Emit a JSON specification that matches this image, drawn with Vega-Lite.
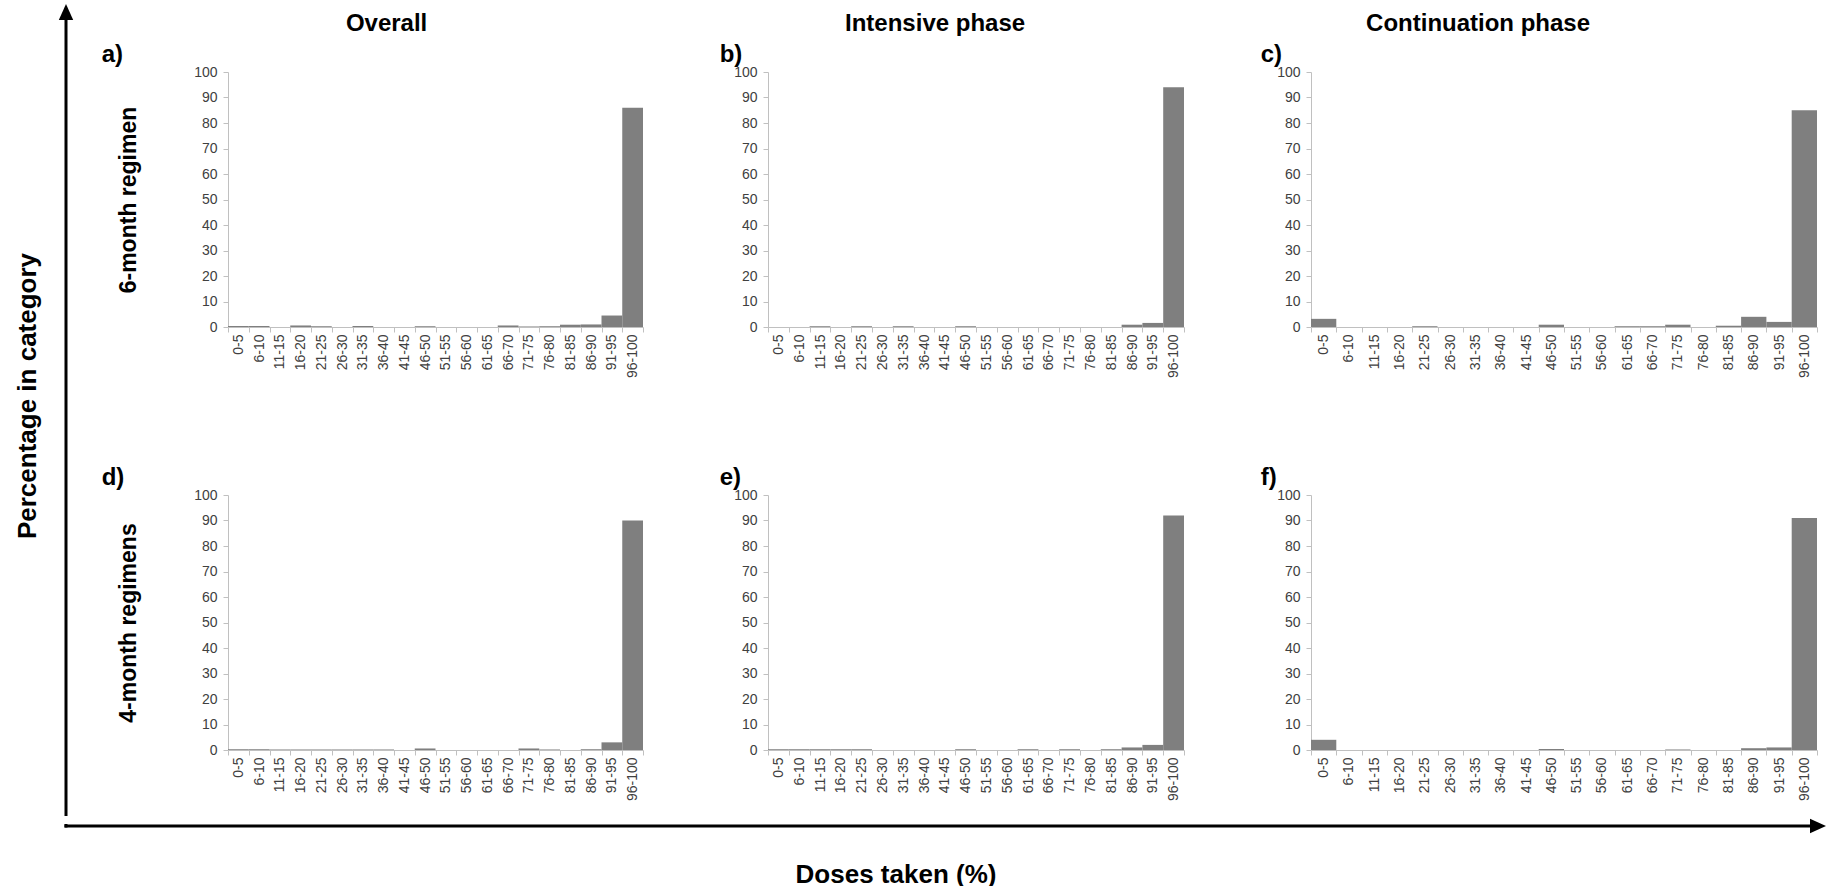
{
  "$schema": "https://vega.github.io/schema/vega-lite/v6.json",
  "padding": {"top": 4, "left": 0, "right": 0, "bottom": 0},
  "background": "white",
  "datasets": {
    "h": [
      {"p":"a","bin":"0-5","v":0.4},{"p":"a","bin":"6-10","v":0.4},{"p":"a","bin":"11-15","v":0},{"p":"a","bin":"16-20","v":0.6},{"p":"a","bin":"21-25","v":0.3},{"p":"a","bin":"26-30","v":0},{"p":"a","bin":"31-35","v":0.4},{"p":"a","bin":"36-40","v":0},{"p":"a","bin":"41-45","v":0},{"p":"a","bin":"46-50","v":0.3},{"p":"a","bin":"51-55","v":0},{"p":"a","bin":"56-60","v":0},{"p":"a","bin":"61-65","v":0},{"p":"a","bin":"66-70","v":0.6},{"p":"a","bin":"71-75","v":0.2},{"p":"a","bin":"76-80","v":0.3},{"p":"a","bin":"81-85","v":0.9},{"p":"a","bin":"86-90","v":1},{"p":"a","bin":"91-95","v":4.5},{"p":"a","bin":"96-100","v":86},
      {"p":"b","bin":"0-5","v":0},{"p":"b","bin":"6-10","v":0},{"p":"b","bin":"11-15","v":0.3},{"p":"b","bin":"16-20","v":0},{"p":"b","bin":"21-25","v":0.3},{"p":"b","bin":"26-30","v":0},{"p":"b","bin":"31-35","v":0.3},{"p":"b","bin":"36-40","v":0},{"p":"b","bin":"41-45","v":0},{"p":"b","bin":"46-50","v":0.3},{"p":"b","bin":"51-55","v":0},{"p":"b","bin":"56-60","v":0},{"p":"b","bin":"61-65","v":0},{"p":"b","bin":"66-70","v":0},{"p":"b","bin":"71-75","v":0},{"p":"b","bin":"76-80","v":0},{"p":"b","bin":"81-85","v":0},{"p":"b","bin":"86-90","v":0.9},{"p":"b","bin":"91-95","v":1.6},{"p":"b","bin":"96-100","v":94},
      {"p":"c","bin":"0-5","v":3.2},{"p":"c","bin":"6-10","v":0},{"p":"c","bin":"11-15","v":0},{"p":"c","bin":"16-20","v":0},{"p":"c","bin":"21-25","v":0.3},{"p":"c","bin":"26-30","v":0},{"p":"c","bin":"31-35","v":0},{"p":"c","bin":"36-40","v":0},{"p":"c","bin":"41-45","v":0},{"p":"c","bin":"46-50","v":0.9},{"p":"c","bin":"51-55","v":0},{"p":"c","bin":"56-60","v":0},{"p":"c","bin":"61-65","v":0.3},{"p":"c","bin":"66-70","v":0.3},{"p":"c","bin":"71-75","v":0.9},{"p":"c","bin":"76-80","v":0},{"p":"c","bin":"81-85","v":0.5},{"p":"c","bin":"86-90","v":4},{"p":"c","bin":"91-95","v":2},{"p":"c","bin":"96-100","v":85},
      {"p":"d","bin":"0-5","v":0.3},{"p":"d","bin":"6-10","v":0.3},{"p":"d","bin":"11-15","v":0.2},{"p":"d","bin":"16-20","v":0.2},{"p":"d","bin":"21-25","v":0.2},{"p":"d","bin":"26-30","v":0.2},{"p":"d","bin":"31-35","v":0.2},{"p":"d","bin":"36-40","v":0.2},{"p":"d","bin":"41-45","v":0},{"p":"d","bin":"46-50","v":0.6},{"p":"d","bin":"51-55","v":0},{"p":"d","bin":"56-60","v":0},{"p":"d","bin":"61-65","v":0},{"p":"d","bin":"66-70","v":0},{"p":"d","bin":"71-75","v":0.6},{"p":"d","bin":"76-80","v":0.2},{"p":"d","bin":"81-85","v":0},{"p":"d","bin":"86-90","v":0.3},{"p":"d","bin":"91-95","v":3},{"p":"d","bin":"96-100","v":90},
      {"p":"e","bin":"0-5","v":0.3},{"p":"e","bin":"6-10","v":0.3},{"p":"e","bin":"11-15","v":0.3},{"p":"e","bin":"16-20","v":0.3},{"p":"e","bin":"21-25","v":0.3},{"p":"e","bin":"26-30","v":0},{"p":"e","bin":"31-35","v":0},{"p":"e","bin":"36-40","v":0},{"p":"e","bin":"41-45","v":0},{"p":"e","bin":"46-50","v":0.3},{"p":"e","bin":"51-55","v":0},{"p":"e","bin":"56-60","v":0},{"p":"e","bin":"61-65","v":0.3},{"p":"e","bin":"66-70","v":0},{"p":"e","bin":"71-75","v":0.3},{"p":"e","bin":"76-80","v":0},{"p":"e","bin":"81-85","v":0.3},{"p":"e","bin":"86-90","v":1},{"p":"e","bin":"91-95","v":2},{"p":"e","bin":"96-100","v":92},
      {"p":"f","bin":"0-5","v":4},{"p":"f","bin":"6-10","v":0},{"p":"f","bin":"11-15","v":0},{"p":"f","bin":"16-20","v":0},{"p":"f","bin":"21-25","v":0},{"p":"f","bin":"26-30","v":0},{"p":"f","bin":"31-35","v":0},{"p":"f","bin":"36-40","v":0},{"p":"f","bin":"41-45","v":0},{"p":"f","bin":"46-50","v":0.4},{"p":"f","bin":"51-55","v":0},{"p":"f","bin":"56-60","v":0},{"p":"f","bin":"61-65","v":0},{"p":"f","bin":"66-70","v":0},{"p":"f","bin":"71-75","v":0.2},{"p":"f","bin":"76-80","v":0},{"p":"f","bin":"81-85","v":0},{"p":"f","bin":"86-90","v":0.7},{"p":"f","bin":"91-95","v":1},{"p":"f","bin":"96-100","v":91}
    ]
  },
  "data": {"name": "h"},
  "vconcat": [
    {
      "hconcat": [
        {
          "width": 100.5, "height": 744,
          "layer": [
            {
              "data": {"values": [{"x": 66, "y": 18, "y2": 816}]},
              "mark": {"type": "rule", "strokeWidth": 3, "color": "black", "strokeCap": "butt"},
              "encoding": {
                "x": {"field": "x", "type": "quantitative", "scale": {"domain": [0, 100.5], "nice": false, "zero": false}, "axis": null},
                "y": {"field": "y", "type": "quantitative", "scale": {"domain": [72, 816], "nice": false, "zero": false, "reverse": true}, "axis": null},
                "y2": {"field": "y2"}
              }
            },
            {
              "data": {"values": [{"x": 66, "y": 12}]},
              "mark": {"type": "point", "shape": "M0,-1L-0.9,1L0.9,1Z", "filled": true, "color": "black", "size": 256, "opacity": 1, "strokeWidth": 0},
              "encoding": {
                "x": {"field": "x", "type": "quantitative", "scale": {"domain": [0, 100.5], "nice": false, "zero": false}, "axis": null},
                "y": {"field": "y", "type": "quantitative", "scale": {"domain": [72, 816], "nice": false, "zero": false, "reverse": true}, "axis": null}
              }
            },
            {
              "data": {"values": [{"x": 28, "y": 396, "t": "Percentage in category"}]},
              "mark": {"type": "text", "angle": 270, "fontSize": 26, "fontWeight": "bold", "align": "center", "baseline": "middle", "color": "black", "font": "Liberation Sans"},
              "encoding": {
                "x": {"field": "x", "type": "quantitative", "scale": {"domain": [0, 100.5], "nice": false, "zero": false}, "axis": null},
                "y": {"field": "y", "type": "quantitative", "scale": {"domain": [72, 816], "nice": false, "zero": false, "reverse": true}, "axis": null},
                "text": {"field": "t"}
              }
            }
          ]
        },
        {
          "hconcat": [
            {
              "title": {"text": "Overall", "anchor": "middle", "dx": 14, "fontSize": 24, "offset": 7},
              "spacing": 88,
              "vconcat": [
                {
                  "width": 415, "height": 255,
                  "title": {"text": "a)", "anchor": "start", "frame": "bounds", "fontSize": 24, "offset": -2, "dx": -16},
                  "transform": [{"filter": "datum.p === 'a'"}],
                  "mark": {"type": "bar", "color": "#7f7f7f"},
                  "encoding": {
                    "x": {"field": "bin", "type": "ordinal", "sort": ["0-5","6-10","11-15","16-20","21-25","26-30","31-35","36-40","41-45","46-50","51-55","56-60","61-65","66-70","71-75","76-80","81-85","86-90","91-95","96-100"], "scale": {"paddingInner": 0, "paddingOuter": 0}, "title": null},
                    "y": {"field": "v", "type": "quantitative", "scale": {"domain": [0, 100], "nice": false}, "axis": {"values": [0,10,20,30,40,50,60,70,80,90,100], "title": "6-month regimen"}}
                  }
                },
                {
                  "width": 415, "height": 255,
                  "title": {"text": "d)", "anchor": "start", "frame": "bounds", "fontSize": 24, "offset": -2, "dx": -16},
                  "transform": [{"filter": "datum.p === 'd'"}],
                  "mark": {"type": "bar", "color": "#7f7f7f"},
                  "encoding": {
                    "x": {"field": "bin", "type": "ordinal", "sort": ["0-5","6-10","11-15","16-20","21-25","26-30","31-35","36-40","41-45","46-50","51-55","56-60","61-65","66-70","71-75","76-80","81-85","86-90","91-95","96-100"], "scale": {"paddingInner": 0, "paddingOuter": 0}, "title": null},
                    "y": {"field": "v", "type": "quantitative", "scale": {"domain": [0, 100], "nice": false}, "axis": {"values": [0,10,20,30,40,50,60,70,80,90,100], "title": "4-month regimens"}}
                  }
                }
              ]
            },
            {
              "title": {"text": "Intensive phase", "anchor": "middle", "dx": -17, "fontSize": 24, "offset": 7},
              "spacing": 88,
              "vconcat": [
                {
                  "width": 416, "height": 255,
                  "title": {"text": "b)", "anchor": "start", "frame": "bounds", "fontSize": 24, "offset": -2, "dx": -14},
                  "transform": [{"filter": "datum.p === 'b'"}],
                  "mark": {"type": "bar", "color": "#7f7f7f"},
                  "encoding": {
                    "x": {"field": "bin", "type": "ordinal", "sort": ["0-5","6-10","11-15","16-20","21-25","26-30","31-35","36-40","41-45","46-50","51-55","56-60","61-65","66-70","71-75","76-80","81-85","86-90","91-95","96-100"], "scale": {"paddingInner": 0, "paddingOuter": 0}, "title": null},
                    "y": {"field": "v", "type": "quantitative", "scale": {"domain": [0, 100], "nice": false}, "axis": {"values": [0,10,20,30,40,50,60,70,80,90,100], "title": null}}
                  }
                },
                {
                  "width": 416, "height": 255,
                  "title": {"text": "e)", "anchor": "start", "frame": "bounds", "fontSize": 24, "offset": -2, "dx": -14},
                  "transform": [{"filter": "datum.p === 'e'"}],
                  "mark": {"type": "bar", "color": "#7f7f7f"},
                  "encoding": {
                    "x": {"field": "bin", "type": "ordinal", "sort": ["0-5","6-10","11-15","16-20","21-25","26-30","31-35","36-40","41-45","46-50","51-55","56-60","61-65","66-70","71-75","76-80","81-85","86-90","91-95","96-100"], "scale": {"paddingInner": 0, "paddingOuter": 0}, "title": null},
                    "y": {"field": "v", "type": "quantitative", "scale": {"domain": [0, 100], "nice": false}, "axis": {"values": [0,10,20,30,40,50,60,70,80,90,100], "title": null}}
                  }
                }
              ]
            },
            {
              "title": {"text": "Continuation phase", "anchor": "middle", "dx": -61, "fontSize": 24, "offset": 7},
              "spacing": 88,
              "vconcat": [
                {
                  "width": 506, "height": 255,
                  "title": {"text": "c)", "anchor": "start", "frame": "bounds", "fontSize": 24, "offset": -2, "dx": -16},
                  "transform": [{"filter": "datum.p === 'c'"}],
                  "mark": {"type": "bar", "color": "#7f7f7f"},
                  "encoding": {
                    "x": {"field": "bin", "type": "ordinal", "sort": ["0-5","6-10","11-15","16-20","21-25","26-30","31-35","36-40","41-45","46-50","51-55","56-60","61-65","66-70","71-75","76-80","81-85","86-90","91-95","96-100"], "scale": {"paddingInner": 0, "paddingOuter": 0}, "title": null},
                    "y": {"field": "v", "type": "quantitative", "scale": {"domain": [0, 100], "nice": false}, "axis": {"values": [0,10,20,30,40,50,60,70,80,90,100], "title": null}}
                  }
                },
                {
                  "width": 506, "height": 255,
                  "title": {"text": "f)", "anchor": "start", "frame": "bounds", "fontSize": 24, "offset": -2, "dx": -16},
                  "transform": [{"filter": "datum.p === 'f'"}],
                  "mark": {"type": "bar", "color": "#7f7f7f"},
                  "encoding": {
                    "x": {"field": "bin", "type": "ordinal", "sort": ["0-5","6-10","11-15","16-20","21-25","26-30","31-35","36-40","41-45","46-50","51-55","56-60","61-65","66-70","71-75","76-80","81-85","86-90","91-95","96-100"], "scale": {"paddingInner": 0, "paddingOuter": 0}, "title": null},
                    "y": {"field": "v", "type": "quantitative", "scale": {"domain": [0, 100], "nice": false}, "axis": {"values": [0,10,20,30,40,50,60,70,80,90,100], "title": null}}
                  }
                }
              ]
            }
          ],
          "spacing": 75
        }
      ],
      "spacing": 0
    },
    {
      "width": 1828, "height": 70,
      "layer": [
        {
          "data": {"values": [{"x": 64.5, "x2": 1812, "y": 818}]},
          "mark": {"type": "rule", "strokeWidth": 3, "color": "black", "strokeCap": "butt"},
          "encoding": {
            "x": {"field": "x", "type": "quantitative", "scale": {"domain": [0, 1828], "nice": false, "zero": false}, "axis": null},
            "x2": {"field": "x2"},
            "y": {"field": "y", "type": "quantitative", "scale": {"domain": [816, 886], "nice": false, "zero": false, "reverse": true}, "axis": null}
          }
        },
        {
          "data": {"values": [{"x": 66, "y": 816, "y2": 819.5}]},
          "mark": {"type": "rule", "strokeWidth": 3, "color": "black", "strokeCap": "butt"},
          "encoding": {
            "x": {"field": "x", "type": "quantitative", "scale": {"domain": [0, 1828], "nice": false, "zero": false}, "axis": null},
            "y": {"field": "y", "type": "quantitative", "scale": {"domain": [816, 886], "nice": false, "zero": false, "reverse": true}, "axis": null},
            "y2": {"field": "y2"}
          }
        },
        {
          "data": {"values": [{"x": 1818, "y": 818}]},
          "mark": {"type": "point", "shape": "M1,0L-1,-0.9L-1,0.9Z", "filled": true, "color": "black", "size": 256, "opacity": 1, "strokeWidth": 0},
          "encoding": {
            "x": {"field": "x", "type": "quantitative", "scale": {"domain": [0, 1828], "nice": false, "zero": false}, "axis": null},
            "y": {"field": "y", "type": "quantitative", "scale": {"domain": [816, 886], "nice": false, "zero": false, "reverse": true}, "axis": null}
          }
        },
        {
          "data": {"values": [{"x": 896, "y": 867, "t": "Doses taken (%)"}]},
          "mark": {"type": "text", "fontSize": 26, "fontWeight": "bold", "align": "center", "baseline": "middle", "color": "black", "font": "Liberation Sans"},
          "encoding": {
            "x": {"field": "x", "type": "quantitative", "scale": {"domain": [0, 1828], "nice": false, "zero": false}, "axis": null},
            "y": {"field": "y", "type": "quantitative", "scale": {"domain": [816, 886], "nice": false, "zero": false, "reverse": true}, "axis": null},
            "text": {"field": "t"}
          }
        }
      ]
    }
  ],
  "spacing": 0,
  "config": {
    "font": "Liberation Sans",
    "view": {"stroke": null},
    "title": {"font": "Liberation Sans", "fontWeight": "bold", "color": "black"},
    "axis": {
      "grid": false,
      "domainColor": "#c0c0c0",
      "tickColor": "#c0c0c0",
      "tickSize": 5,
      "labelColor": "#404040",
      "labelFont": "Liberation Sans",
      "titleFont": "Liberation Sans"
    },
    "axisX": {"labelAngle": -90, "labelFontSize": 14, "tickBand": "extent", "labelPadding": 2, "labelBaseline": "middle"},
    "axisY": {"labelFontSize": 14, "labelPadding": 6, "titleFontSize": 23, "titleFontWeight": "bold", "titleColor": "black", "titlePadding": 53}
  }
}
